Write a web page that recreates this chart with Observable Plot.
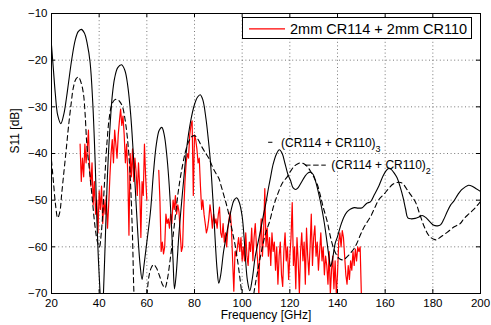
<!DOCTYPE html>
<html><head><meta charset="utf-8">
<script src="https://cdn.jsdelivr.net/npm/d3@7"></script>
<script src="https://cdn.jsdelivr.net/npm/@observablehq/plot@0.6"></script>
<style>body{margin:0;background:#fff} svg{display:block}</style>
</head><body><div id="chart"></div>
<script>
const xTicks = [20, 40, 60, 80, 100, 120, 140, 160, 180, 200];
const yTicks = [-70, -60, -50, -40, -30, -20, -10];

// (CR114 + CR110)_3 : solid black
const cr3 = [[20,-16.8],[20.8,-22],[21.6,-27.2],[22.6,-31.8],[23.9,-33.6],[25.2,-31.5],[26.3,-28],[27.1,-25],[28.5,-19.8],[30,-15.6],[31.2,-13.9],[32.5,-13.4],[33.8,-14.2],[35,-16.5],[36.2,-20.5],[37.3,-29],[38.3,-41.5],[39.1,-55],[39.7,-62.9],[40.4,-70],[41.1,-78],[41.8,-70],[42.6,-58],[43.3,-47],[43.9,-40],[44.7,-33],[45.5,-27.6],[46.5,-23.8],[47.8,-21.6],[49.4,-21],[50.8,-22.2],[52,-25.5],[53.2,-31.5],[54.2,-39],[55.2,-48],[56.2,-57],[57.2,-64],[58,-67],[58.8,-64],[60,-59],[61.5,-52.6],[62.8,-44],[64,-38],[65.2,-35],[66.3,-34.4],[67.3,-36],[68.3,-40],[69.2,-45.4],[70.2,-54],[71,-63],[71.6,-69],[72.3,-66],[73.5,-57],[74.5,-51],[75.5,-45.4],[76.8,-38.5],[78.3,-33.3],[80,-29.5],[81.3,-27.9],[82.4,-27.4],[83.5,-28.5],[84.8,-32.5],[85.8,-37],[86.7,-41.9],[87.8,-50.5],[88.8,-59.7],[89.5,-65],[90.2,-67.8],[91,-66],[92.2,-61],[93.4,-57.5],[94.4,-54.7],[95.5,-51.8],[96.6,-50],[97.7,-49.5],[98.8,-50.5],[100,-53.5],[100.8,-58],[101.5,-63.3],[102.2,-67.2],[103.2,-69.4],[104.2,-67],[105.5,-62],[106.7,-59],[107.7,-56.5],[109,-53],[110,-50.5],[111,-47.5],[111.9,-45.1],[113,-42.3],[114.3,-40.2],[115.6,-39.2],[116.8,-40],[118,-42.2],[119.2,-44.5],[120.3,-45.8],[121.3,-47.3],[122.5,-47.7],[123.5,-47.3],[124.8,-46.2],[126.2,-45],[127.5,-44.2],[128.7,-44],[129.8,-44.5],[131,-46.3],[132.2,-48.8],[133.3,-51.5],[134.5,-55],[135.6,-59],[136.5,-62.5],[137.1,-64.2],[137.8,-63],[139,-59.3],[140,-57.8],[141.3,-55.5],[142.7,-53.6],[144,-52.5],[145.5,-51.9],[147,-51.6],[148.7,-51.7],[150.4,-51.6],[152.2,-50.7],[153.9,-50.3],[155.5,-48.8],[157.4,-46.9],[159.2,-44.7],[160.5,-43.6],[161.5,-43.2],[162.5,-43.4],[163.8,-44.2],[165,-45.2],[166.2,-47],[167.5,-49.4],[168.6,-52],[169.5,-53.8],[171,-54],[172.6,-53.9],[174.2,-53.6],[175.5,-53.3],[177,-53.7],[178.7,-54.6],[180.4,-55.4],[182,-55.5],[183.2,-55.3],[184.5,-54.2],[186,-52.5],[187.5,-51],[188.8,-50.2],[190.5,-48.8],[192,-47.8],[193.5,-47.2],[195,-46.8],[196.5,-47],[198,-47.5],[200,-48.1]];

// (CR114 + CR110)_2 : dashed black
const cr2 = [[20,-41.5],[20.8,-46],[21.7,-51],[22.6,-53.8],[23.5,-52.5],[24.3,-48.5],[25.2,-44],[26.2,-39],[27.1,-34.4],[28.2,-29.5],[29.2,-25.8],[30.3,-24],[31.3,-23.6],[32.4,-24.8],[33.4,-27.2],[34.1,-31.5],[34.8,-37.9],[35.9,-43.5],[36.9,-48.6],[38.3,-55.8],[39.3,-59],[40.1,-60],[40.9,-57],[41.7,-51],[42.5,-44],[43.3,-37.5],[44.2,-32.5],[45.3,-29.5],[46.5,-28.5],[47.7,-28.4],[48.8,-29],[49.8,-30],[50.8,-32.5],[51.7,-36],[52.5,-40.5],[53.3,-48],[54,-58],[54.6,-70],[55.5,-78],[57.5,-82],[59,-77],[60.1,-70],[61,-66],[62,-64.3],[62.9,-63.8],[64,-64.5],[65.3,-66.2],[66.5,-68],[67.6,-68.8],[68.6,-67],[69.6,-63.5],[70.6,-59.5],[71.6,-55],[72.6,-50.5],[73.8,-46],[75,-42.5],[76.2,-39.6],[77.6,-37.4],[79,-36.3],[80.2,-36.2],[81.5,-37],[83,-38.5],[84.5,-39.8],[86,-41],[87.5,-42.8],[88.9,-44.2],[90.2,-45.3],[91.2,-47],[92.5,-49.3],[93.7,-51.5],[95,-54.5],[96.2,-57.5],[97.2,-60.1],[98.5,-64.5],[99.7,-69.4],[100.8,-74],[102.5,-78],[104,-74],[104.9,-70],[106.3,-65.8],[108.5,-60],[110,-56.8],[111.5,-54.6],[112.8,-52],[114,-50],[115.5,-47.9],[117,-46.2],[118.9,-45],[120.3,-43.8],[121.7,-42.8],[123,-42.3],[124.5,-42],[125.9,-42.2],[127.3,-42.8],[128.7,-43.8],[130,-45],[131.5,-46.6],[132.8,-49],[134,-51.5],[135.7,-54.6],[137.1,-58],[138.5,-60.5],[139.9,-62],[141,-62.6],[142.3,-62.8],[143.5,-62.4],[144.3,-62],[145.5,-61.3],[146.9,-60.4],[148,-59.4],[149.3,-57.8],[150.8,-56.1],[152.3,-54.8],[153.9,-53.5],[155.5,-51.8],[157.2,-50],[159.5,-48.7],[161.5,-47.5],[163.2,-46.6],[165,-46.2],[166.5,-46.2],[167.5,-46.5],[169,-47.6],[170.5,-48.7],[172.7,-50.4],[174.5,-53],[176.5,-55.8],[178.5,-57.7],[180.4,-58.4],[181.5,-58.5],[183,-58],[186,-56.9],[189,-55.7],[191.5,-55],[193,-54],[195,-53],[197.5,-51.8],[200,-50.3]];

// measured: 2mm CR114 + 2mm CR110, from 32 GHz in 0.5 GHz steps (null = no data)
const redStart = 32, redStep = 0.5;
const redValues = [
-38,-46,-41,-45,-38,-42,-39,-35,-43,-47,
-42,-51,-46,-53,-50,-57,-48,-52,-47,-55,
-50,-53,-49,-56,-51,-45,-40,-37,-42,-35,
-38,-41,-36,-33,-30.5,-34,-32,-36,-42,-38,
-44,-57.5,-40,-45,-39,-46,-41,-44,-49,-42,
-47,-58,-46,-49,-38,-45,-50,null,null,null,
null,null,null,null,null,null,-43.6,-50,-61,-59,
-61.5,-60,-53,-55,-54,-56,-53,-55,-50,-52,
-49,-53,-51,-52.5,-57,-61,-60,-52,-46,-42,
-40,-41,-36,-34,-33,-49,-36,-37,-39,-42,
-41,-47,-52,-50,-53,-55,-57,-56,-54,-51,
-53,-56,-53,-55,-54,-56,-53,-51.5,-57,-58,
-55,-59,-57,-60,-56,-54,-52.5,-56,-63,-69.5,
-61,-62,-60,-58,-61,-58,-63,-60,-63,-57,
-62,-64,-59,-61,-56,-63,-58,-55,-60,-63,
-70,-58,-54,-62,-57,-47.5,-60,-56,-62,-58,
-64,-57,-61,-59,-65,-60,-68,-62,-59,-66,
-68.5,-61,-57,-63,-60,-67,-62,-58,-50.5,-64,
-60,-69,-58,-63,-70,-61,-57,-63,-59,-68,
-56,-62,-66,-60,-53,-64,-58,-55.5,-62,-59,
-65,-61,-57,-63,-60,-66,-62,-64,-68,-61,
-70,-65,-62,-69,-63,-70,-66,-59,-57,-60,
-56.5,-58,-62,-66,-68,-64,-67,-63,-65,-61,
-64,-60.5,-63,-60,-61,-60,-70];

const legendLabel = "2mm CR114 + 2mm CR110";
const annotations = [
  {label: "(CR114 + CR110)", sub: "3", x: 116.5, y: -37.7, lead: [111.1, 112.9], leadDash: null},
  {label: "(CR114 + CR110)", sub: "2", x: 137.6, y: -42.6, lead: [126.6, 135.3], leadDash: "5.5,2.6"}
];

const redData = redValues.map((v, i) => ({f: redStart + i * redStep, v: v == null ? NaN : v}));
const d3Data = cr3.map(([f, v]) => ({f, v}));
const d2Data = cr2.map(([f, v]) => ({f, v}));

const W = 491, H = 325, mL = 51, mR = 11, mT = 13, mB = 32;
const iw = W - mL - mR, ih = H - mT - mB;
const font = "'Liberation Sans', Arial, Helvetica, sans-serif";

const chart = Plot.plot({
  width: W, height: H,
  marginLeft: mL, marginRight: mR, marginTop: mT, marginBottom: mB,
  style: {fontFamily: font, fontSize: "11.5px", background: "white", color: "black"},
  x: {domain: [20, 200], ticks: xTicks, tickSize: 0, tickPadding: 5, label: null},
  y: {domain: [-70, -10], ticks: yTicks, tickSize: 0, tickPadding: 4, label: null},
  marks: [
    Plot.ruleX(xTicks, {x: d => d, stroke: "#555", strokeWidth: 0.8, strokeDasharray: "1,2.6"}),
    Plot.ruleY(yTicks, {y: d => d, stroke: "#555", strokeWidth: 0.8, strokeDasharray: "1,2.6"}),
    Plot.line(redData, {x: "f", y: "v", stroke: "#ff0000", strokeWidth: 1.2, clip: true}),
    Plot.line(d3Data, {x: "f", y: "v", stroke: "black", strokeWidth: 1.1, curve: "catmull-rom", clip: true}),
    Plot.line(d2Data, {x: "f", y: "v", stroke: "black", strokeWidth: 1.1, strokeDasharray: "5,3.5", curve: "catmull-rom", clip: true}),
    Plot.ruleX(xTicks, {x: d => d, insetTop: ih - 4, stroke: "black"}),
    Plot.ruleX(xTicks, {x: d => d, insetBottom: ih - 4, stroke: "black"}),
    Plot.ruleY(yTicks, {y: d => d, insetRight: iw - 4, stroke: "black"}),
    Plot.ruleY(yTicks, {y: d => d, insetLeft: iw - 4, stroke: "black"}),
    Plot.frame({stroke: "black", strokeWidth: 1}),
    Plot.text(["Frequency [GHz]"], {text: d => d, frameAnchor: "bottom", dy: 25.5, fontSize: 12}),
    Plot.text(["S11 [dB]"], {text: d => d, frameAnchor: "left", dx: -36, rotate: -90, fontSize: 12})
  ]
});

const svg = d3.select(chart);
const sx = chart.scale("x"), sy = chart.scale("y");

// annotations
for (const a of annotations) {
  const yy = sy.apply(a.y);
  const ln = svg.append("line")
    .attr("x1", sx.apply(a.lead[0])).attr("x2", sx.apply(a.lead[1]))
    .attr("y1", yy).attr("y2", yy)
    .attr("stroke", "black").attr("stroke-width", 1);
  if (a.leadDash) ln.attr("stroke-dasharray", a.leadDash);
  const t = svg.append("text")
    .attr("x", sx.apply(a.x)).attr("y", yy).attr("dy", "0.36em")
    .attr("text-anchor", "start")
    .attr("font-family", font).attr("font-size", 12).attr("fill", "black");
  t.append("tspan").text(a.label);
  t.append("tspan").attr("font-size", 9).attr("dy", 5).text(a.sub);
}

// legend
const lg = svg.append("g").attr("text-anchor", "start");
lg.append("rect").attr("x", 242.5).attr("y", 17.5).attr("width", 229).attr("height", 21)
  .attr("fill", "white").attr("stroke", "black").attr("stroke-width", 1);
lg.append("line").attr("x1", 249).attr("x2", 285).attr("y1", 28.8).attr("y2", 28.8)
  .attr("stroke", "#ff0000").attr("stroke-width", 1.2);
lg.append("text").attr("x", 290).attr("y", 34).attr("font-family", font)
  .attr("font-size", 14.5).attr("fill", "black").text(legendLabel);

document.getElementById("chart").appendChild(chart);
</script>
</body></html>
